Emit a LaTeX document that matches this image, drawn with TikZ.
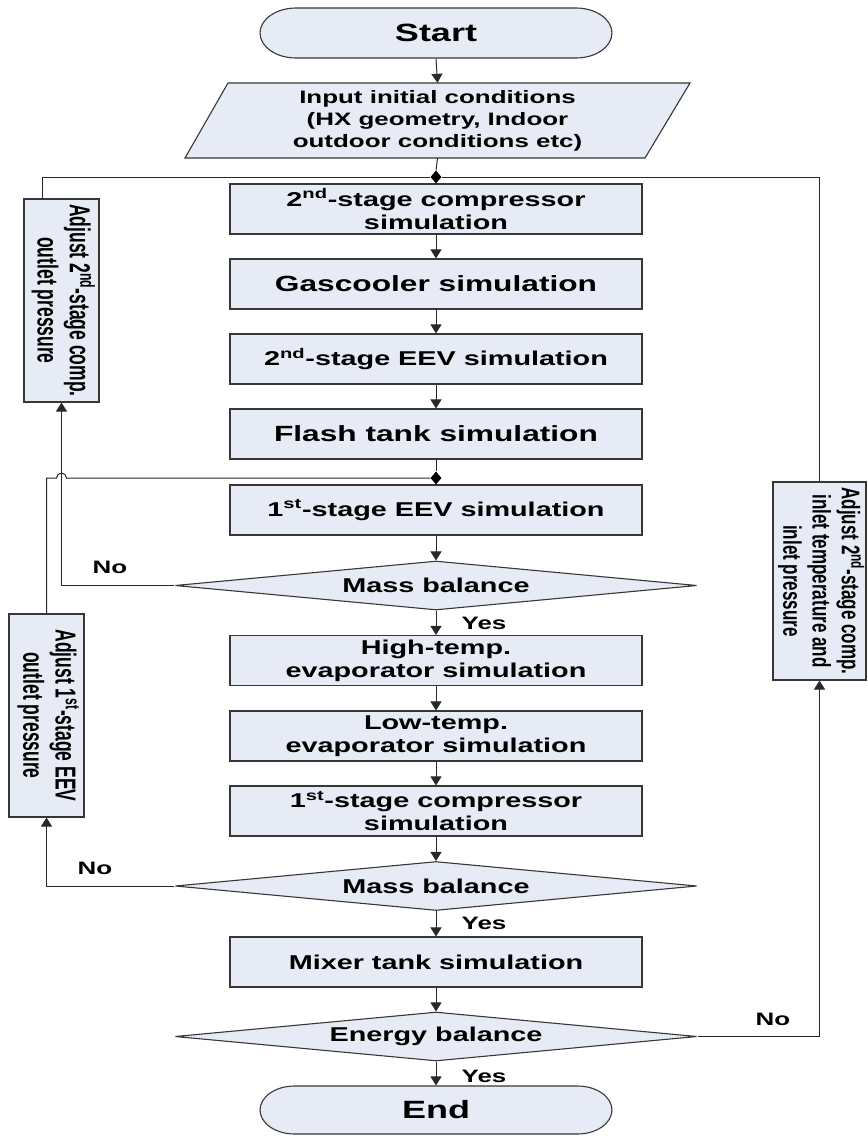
\documentclass[tikz,border=0pt]{standalone}
\usepackage{fontspec}
\setmainfont{Liberation Sans}
\usepackage{graphicx}
\usetikzlibrary{shapes.geometric,shapes.misc,arrows.meta,calc}
\definecolor{boxfill}{RGB}{230,235,245}
\definecolor{edgecol}{RGB}{55,55,55}
\definecolor{wirecol}{RGB}{40,40,40}
\newcommand\myfs[2]{\fontsize{#1}{#2}\selectfont\bfseries}
\begin{document}
\begin{tikzpicture}[x=1pt,y=1pt,
  st/.style={xscale=1.44},
  base/.style={st, draw=edgecol, fill=boxfill, line width=1.1pt, inner sep=0pt, align=center, font={\myfs{20}{23}}},
  proc/.style={base, rectangle, minimum width=286.1pt, minimum height=50pt},
  term/.style={base, rounded rectangle, minimum width=244.4pt, minimum height=50pt, font={\myfs{25}{28}}},
  dec/.style={base, diamond, aspect=7.4, minimum width=362.5pt, minimum height=49pt},
  side/.style={base, rectangle, xscale=1.65/1.44, font={\myfs{17.5}{19.5}}},
  sider/.style={base, rectangle, xscale=1.5/1.44, font={\myfs{17}{19.5}}},
  wire/.style={draw=wirecol, line width=1pt},
  arr/.style={wire, -{Triangle[length=9pt,width=11pt]}},
  lab/.style={st, font={\myfs{18}{20}}, inner sep=0pt},
  jn/.style={diamond, fill=black, inner sep=0pt, minimum width=11pt, minimum height=13pt}
]
\useasboundingbox (0,0) rectangle (868,-1136);

% terminals and input
\node[term] (start) at (436,-33) {Start};
\filldraw[draw=edgecol, fill=boxfill, line width=1.1pt] (228,-83) -- (690,-83) -- (645,-158) -- (185,-158) -- cycle;
\node[st, inner sep=0pt, minimum height=75pt, align=center, font={\myfs{18}{22}}] (input) at (437.5,-120.5)
  {Input initial conditions\\(HX geometry, Indoor\\outdoor conditions etc)};

% main column
\node[jn] (j1) at (436,-177) {};
\node[proc] (A) at (436,-209) {2\textsuperscript{nd}-stage compressor\\simulation};
\node[proc, font={\myfs{22}{24}}] (B) at (436,-284) {Gascooler simulation};
\node[proc] (C) at (436,-359) {2\textsuperscript{nd}-stage EEV simulation};
\node[proc, font={\myfs{22}{24}}] (D) at (436,-434) {Flash tank simulation};
\node[jn] (j2) at (436,-478) {};
\node[proc] (E) at (436,-510) {1\textsuperscript{st}-stage EEV simulation};
\node[dec] (M1) at (436,-585.5) {Mass balance};
\node[proc] (F) at (436,-660.5) {High-temp.\\evaporator simulation};
\node[proc] (G) at (436,-736) {Low-temp.\\evaporator simulation};
\node[proc] (H) at (436,-811) {1\textsuperscript{st}-stage compressor\\simulation};
\node[dec] (M2) at (436,-886) {Mass balance};
\node[proc] (I) at (436,-962) {Mixer tank simulation};
\node[dec] (M3) at (436,-1036.5) {Energy balance};
\node[term, minimum height=48pt] (end) at (436,-1110) {End};

% side boxes
\node[side, minimum width=45.5pt, minimum height=203pt] (adjOut) at (61.5,-300.5)
  {\rotatebox{-90}{\begin{tabular}{@{}c@{}}Adjust 2\textsuperscript{nd}-stage comp.\\outlet pressure\end{tabular}}};
\node[side, minimum width=45.5pt, minimum height=203pt] (adjEEV) at (46.5,-715.5)
  {\rotatebox{-90}{\begin{tabular}{@{}c@{}}Adjust 1\textsuperscript{st}-stage EEV\\outlet pressure\end{tabular}}};
\node[sider, minimum width=62pt, minimum height=198pt] (adjIn) at (819.5,-581)
  {\rotatebox{-90}{\begin{tabular}{@{}c@{}}Adjust 2\textsuperscript{nd}-stage comp.\\inlet temperature and\\inlet pressure\end{tabular}}};

% labels
\node[lab] (no1) at (110,-567) {No};
\node[lab] (no2) at (95,-868) {No};
\node[lab] (no3) at (773,-1019) {No};
\node[lab] (yes1) at (484,-623) {Yes};
\node[lab] (yes2) at (484,-923) {Yes};
\node[lab] (yes3) at (484,-1076) {Yes};

% main flow
\draw[arr] (start.south) -- (input.north);
\draw[wire] (input.south) -- (j1.north);
\draw[wire] (j1.south) -- (A.north);
\draw[arr] (A.south) -- (B.north);
\draw[arr] (B.south) -- (C.north);
\draw[arr] (C.south) -- (D.north);
\draw[wire] (D.south) -- (j2.north);
\draw[wire] (j2.south) -- (E.north);
\draw[arr] (E.south) -- (M1.north);
\draw[arr] (M1.south) -- (F.north);
\draw[arr] (F.south) -- (G.north);
\draw[arr] (G.south) -- (H.north);
\draw[arr] (H.south) -- (M2.north);
\draw[arr] (M2.south) -- (I.north);
\draw[arr] (I.south) -- (M3.north);
\draw[arr] (M3.south) -- (end.north);

% feedback loops
\draw[arr] (M1.west) -| (adjOut.south);
\draw[wire] ($(adjOut.north west)!0.25!(adjOut.north east)$) |- (j1.west);
\coordinate (hop) at (adjOut.south |- j2);
\draw[arr] (M2.west) -| (adjEEV.south);
\draw[wire] (adjEEV.north) |- ($(hop)+(-5,0)$) arc[start angle=180,end angle=0,radius=5] -- (j2.west);
\draw[arr] (M3.east) -| (adjIn.south);
\draw[wire] (adjIn.north) |- (j1.east);
\end{tikzpicture}
\end{document}
